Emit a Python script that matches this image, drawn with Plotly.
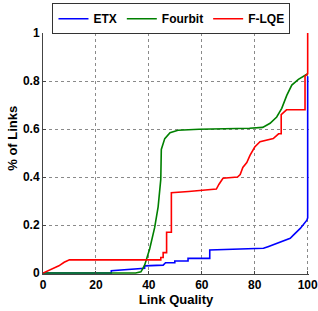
import plotly.graph_objects as go

# ETX
etx_x = [0, 25.8, 25.8, 31.5, 36.6, 38.4, 38.4, 45.4, 46.3, 49.8, 49.8, 54.8, 54.8, 63, 63,
         78, 83.3, 85, 88.3, 89.6, 93.4, 94.6, 97.2, 99.7, 100, 100]
etx_y = [0, 0, 0.01, 0.015, 0.02, 0.02, 0.03, 0.033, 0.043, 0.043, 0.05, 0.05, 0.061, 0.061, 0.096,
         0.10, 0.103, 0.11, 0.124, 0.13, 0.145, 0.158, 0.186, 0.22, 0.23, 0.82]

# Fourbit
fb_x = [0, 35, 37, 38.4, 40.3, 42.2, 43.5, 44.5, 44.7, 46, 48, 51, 59, 70, 78, 83, 85.8, 88.3,
        90.2, 92.1, 94, 96.5, 99, 100]
fb_y = [0, 0, 0.005, 0.033, 0.10, 0.19, 0.276, 0.39, 0.515, 0.56, 0.585, 0.595, 0.599, 0.601,
        0.603, 0.607, 0.624, 0.65, 0.686, 0.74, 0.783, 0.807, 0.825, 0.83]

# F-LQE
fl_x = [0, 2, 4, 6, 8, 10, 44.5, 44.5, 45.4, 45.4, 46.7, 46.7, 48.5, 48.5, 55, 62, 65.5, 66.5,
        68, 73.5, 74.5, 75.5, 77, 78.2, 80, 82, 87, 89, 90, 90, 92, 99, 99, 100, 100]
fl_y = [0, 0.01, 0.02, 0.03, 0.045, 0.055, 0.055, 0.065, 0.065, 0.085, 0.085, 0.17, 0.17, 0.335,
        0.34, 0.345, 0.35, 0.37, 0.395, 0.40, 0.41, 0.44, 0.46, 0.49, 0.525, 0.547, 0.56, 0.58,
        0.58, 0.66, 0.68, 0.68, 0.82, 0.83, 1.0]

x_ticks = [0, 20, 40, 60, 80, 100]
y_ticks = [0, 0.2, 0.4, 0.6, 0.8, 1]
y_tick_text = ["0", "0.2", "0.4", "0.6", "0.8", "1"]

FONT = "Liberation Sans, Arial, sans-serif"

fig = go.Figure()
fig.add_trace(go.Scatter(x=etx_x, y=etx_y, mode="lines", name="ETX",
                         line=dict(color="#0000ff", width=1.6)))
fig.add_trace(go.Scatter(x=fb_x, y=fb_y, mode="lines", name="Fourbit",
                         line=dict(color="#008000", width=1.6)))
fig.add_trace(go.Scatter(x=fl_x, y=fl_y, mode="lines", name="F-LQE",
                         line=dict(color="#ff0000", width=1.6)))

fig.update_layout(
    width=318, height=311,
    margin=dict(l=43, r=9, t=33, b=37, autoexpand=False),
    paper_bgcolor="white", plot_bgcolor="white",
    font=dict(family=FONT, size=12, color="black"),
    showlegend=True,
    legend=dict(orientation="h", x=0.483, xanchor="center", y=0.995, yanchor="bottom",
                bgcolor="white", bordercolor="#333333", borderwidth=1,
                font=dict(family=FONT, size=12, color="black", weight="bold"),
                itemwidth=30, tracegroupgap=0),
    xaxis=dict(range=[0, 100.5], tickvals=x_ticks, ticks="inside", ticklen=3,
               showline=True, linecolor="#444444", linewidth=1, mirror=False,
               showgrid=True, gridcolor="#8a8a8a", griddash="dot", gridwidth=1,
               zeroline=False, automargin=False, ticklabeloverflow="allow",
               tickfont=dict(family=FONT, size=12, weight="bold"),
               title=dict(text="Link Quality", font=dict(family=FONT, size=13, weight="bold"),
                          standoff=0)),
    yaxis=dict(range=[-0.004, 1.0], tickvals=y_ticks, ticktext=y_tick_text, ticks="inside", ticklen=3,
               showline=True, linecolor="#444444", linewidth=1, mirror=False,
               showgrid=True, gridcolor="#8a8a8a", griddash="dot", gridwidth=1,
               zeroline=False, automargin=False, ticklabeloverflow="allow",
               tickfont=dict(family=FONT, size=12, weight="bold")),
    annotations=[dict(text="<b>% of Links</b>", xref="paper", yref="paper",
                      x=-0.113, y=0.565, xanchor="center", yanchor="middle",
                      textangle=-90, showarrow=False,
                      font=dict(family=FONT, size=13, color="black"))],
)

fig.write_html("out.html", config={"displayModeBar": False},
               post_script="document.body.style.margin='0px';")
